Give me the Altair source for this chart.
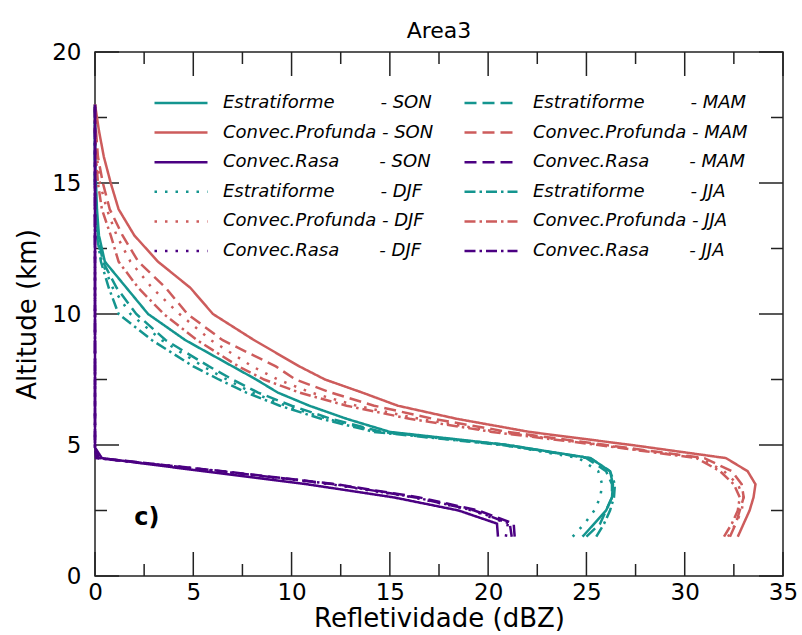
import altair as alt
import pandas as pd

# ---------------- data ----------------
alt_levels = [1.5, 2.0, 2.5, 3.0, 3.5, 4.0, 4.5, 5.0, 5.5, 6.0, 6.5, 7.0, 7.5, 8.0,
              9.0, 10.0, 11.0, 12.0, 13.0, 14.0, 15.0, 16.0, 17.0, 18.0]

# Estratiforme (teal)
est_son = [24.8, 25.4, 26.0, 26.3, 26.35, 26.2, 25.2, 21.0, 15.0, 12.8, 10.9, 9.3, 8.2, 7.0,
           4.6, 2.7, 1.6, 0.5, 0.2, 0.1, 0.05, 0.0, 0.0, 0.0]
est_mam = [25.0, 25.7, 26.0, 26.3, 26.3, 26.0, 25.0, 21.0, 14.6, 12.0, 10.0, 8.3, 7.0, 5.8,
           3.6, 2.1, 1.1, 0.4, 0.15, 0.05, 0.0, 0.0, 0.0, 0.0]
est_djf = [24.3, 24.9, 25.4, 25.7, 25.8, 25.6, 24.6, 20.8, 14.4, 11.8, 9.7, 8.0, 6.7, 5.5,
           3.4, 1.8, 0.9, 0.35, 0.1, 0.05, 0.0, 0.0, 0.0, 0.0]
est_jja = [25.5, 25.9, 26.2, 26.4, 26.45, 26.2, 25.2, 20.7, 14.2, 11.5, 9.4, 7.7, 6.3, 5.0,
           2.9, 1.2, 0.7, 0.3, 0.1, 0.05, 0.0, 0.0, 0.0, 0.0]

# Convec.Profunda (red)
prof_son = [32.7, 33.0, 33.3, 33.5, 33.6, 33.2, 32.1, 27.3, 22.1, 18.4, 15.4, 13.6, 11.7, 10.4,
            8.1, 6.0, 4.85, 3.2, 2.0, 1.2, 0.8, 0.45, 0.2, 0.0]
prof_mam = [32.3, 32.6, 32.8, 33.0, 32.9, 32.4, 31.0, 26.0, 21.0, 17.2, 14.2, 12.0, 10.2, 9.2,
            6.5, 4.7, 3.6, 2.2, 1.4, 0.75, 0.4, 0.15, 0.05, 0.0]
prof_djf = [32.2, 32.6, 32.9, 33.0, 32.7, 32.0, 30.8, 25.8, 20.5, 16.5, 13.3, 11.0, 9.3, 8.0,
            5.9, 4.3, 2.9, 1.8, 1.1, 0.6, 0.25, 0.1, 0.0, 0.0]
prof_jja = [32.0, 32.4, 32.7, 32.8, 32.5, 31.8, 30.6, 25.6, 20.2, 16.0, 12.8, 10.4, 8.6, 7.3,
            5.2, 3.5, 2.2, 1.2, 0.8, 0.35, 0.15, 0.05, 0.0, 0.0]

# Convec.Rasa (purple)
rasa_levels = [1.5, 2.0, 2.5, 3.0, 3.5, 4.0, 4.5, 4.9, 18.0]
rasa_son = [20.5, 20.45, 18.5, 15.2, 10.8, 5.5, 0.35, 0.0, 0.0]
rasa_mam = [21.35, 21.3, 19.5, 16.5, 12.3, 6.5, 0.2, 0.0, 0.0]
rasa_djf = [20.9, 21.0, 19.2, 16.2, 12.0, 6.3, 0.1, 0.0, 0.0]
rasa_jja = [21.2, 21.1, 19.3, 16.3, 12.2, 6.4, 0.05, 0.0, 0.0]

NB = "\u00a0"
lab = {
    ("E", "SON"): "Estratiforme" + NB * 8 + "- SON",
    ("P", "SON"): "Convec.Profunda" + NB + "- SON",
    ("R", "SON"): "Convec.Rasa" + NB * 7 + "- SON",
    ("E", "DJF"): "Estratiforme" + NB * 8 + "- DJF",
    ("P", "DJF"): "Convec.Profunda" + NB + "- DJF",
    ("R", "DJF"): "Convec.Rasa" + NB * 7 + "- DJF",
    ("E", "MAM"): "Estratiforme" + NB * 8 + "- MAM",
    ("P", "MAM"): "Convec.Profunda" + NB + "- MAM",
    ("R", "MAM"): "Convec.Rasa" + NB * 7 + "- MAM",
    ("E", "JJA"): "Estratiforme" + NB * 8 + "- JJA",
    ("P", "JJA"): "Convec.Profunda" + NB + "- JJA",
    ("R", "JJA"): "Convec.Rasa" + NB * 7 + "- JJA",
}

series = [
    ("E", "SON", est_son, alt_levels), ("E", "MAM", est_mam, alt_levels),
    ("E", "DJF", est_djf, alt_levels), ("E", "JJA", est_jja, alt_levels),
    ("P", "SON", prof_son, alt_levels), ("P", "MAM", prof_mam, alt_levels),
    ("P", "DJF", prof_djf, alt_levels), ("P", "JJA", prof_jja, alt_levels),
    ("R", "SON", rasa_son, rasa_levels), ("R", "MAM", rasa_mam, rasa_levels),
    ("R", "DJF", rasa_djf, rasa_levels), ("R", "JJA", rasa_jja, rasa_levels),
]

rows = []
for t, s, xs, ys in series:
    for i, (xv, yv) in enumerate(zip(xs, ys)):
        rows.append({"label": lab[(t, s)], "x": xv, "y": yv, "idx": i})
df = pd.DataFrame(rows)

type_color = {"E": "#14958f", "P": "#cd5c5c", "R": "#4b0082"}
season_dash = {"SON": [1, 0], "MAM": [12, 6], "DJF": [2.5, 8], "JJA": [11, 4, 2.5, 4]}

# legend order (column-major: left column SON then DJF, right column MAM then JJA)
legend_keys = [("E", "SON"), ("P", "SON"), ("R", "SON"), ("E", "DJF"), ("P", "DJF"), ("R", "DJF"),
               ("E", "MAM"), ("P", "MAM"), ("R", "MAM"), ("E", "JJA"), ("P", "JJA"), ("R", "JJA")]
domain = [lab[k] for k in legend_keys]
colors = [type_color[k[0]] for k in legend_keys]
dashes = [season_dash[k[1]] for k in legend_keys]

x_major = [0, 5, 10, 15, 20, 25, 30, 35]
x_minor = [2.5, 7.5, 12.5, 17.5, 22.5, 27.5, 32.5]
y_major = [0, 5, 10, 15, 20]
y_minor = [2.5, 7.5, 12.5, 17.5]

panel_label = pd.DataFrame({"x": [2.0], "y": [2.2], "text": ["c)"]})

W, H = 688, 524
FONT = "DejaVu Sans"

xscale = alt.Scale(domain=[0, 35], nice=False, zero=False)
yscale = alt.Scale(domain=[0, 20], nice=False, zero=False)

lines = alt.Chart(df).mark_line(strokeWidth=2.5, strokeCap="butt", strokeJoin="miter").encode(
    x=alt.X("x:Q", scale=xscale,
            axis=alt.Axis(values=x_major, ticks=False, domain=False, grid=False, labelFlush=False,
                          labelFontSize=23, labelFont=FONT, labelColor="black", labelPadding=5,
                          title="Refletividade (dBZ)", titleFont=FONT, titleFontSize=26,
                          titleFontWeight="normal", titleColor="black", titlePadding=1)),
    y=alt.Y("y:Q", scale=yscale,
            axis=alt.Axis(values=y_major, ticks=False, domain=False, grid=False, labelFlush=False,
                          labelFontSize=23, labelFont=FONT, labelColor="black", labelPadding=14,
                          title="Altitude (km)", titleFont=FONT, titleFontSize=26,
                          titleFontWeight="normal", titleColor="black", titlePadding=11)),
    color=alt.Color("label:N", scale=alt.Scale(domain=domain, range=colors),
                    legend=alt.Legend(title=None)),
    strokeDash=alt.StrokeDash("label:N", scale=alt.Scale(domain=domain, range=dashes),
                              legend=alt.Legend(title=None)),
    order=alt.Order("idx:Q"),
)

tick_col = "#222222"
xt_major_bot = alt.Chart(pd.DataFrame({"v": x_major})).mark_rule(color=tick_col, strokeWidth=1.5).encode(
    x=alt.X("v:Q", scale=xscale), y=alt.value(H), y2=alt.value(H - 24))
xt_major_top = alt.Chart(pd.DataFrame({"v": x_major})).mark_rule(color=tick_col, strokeWidth=1.5).encode(
    x=alt.X("v:Q", scale=xscale), y=alt.value(0), y2=alt.value(24))
xt_minor_bot = alt.Chart(pd.DataFrame({"v": x_minor})).mark_rule(color=tick_col, strokeWidth=1.5).encode(
    x=alt.X("v:Q", scale=xscale), y=alt.value(H), y2=alt.value(H - 12))
xt_minor_top = alt.Chart(pd.DataFrame({"v": x_minor})).mark_rule(color=tick_col, strokeWidth=1.5).encode(
    x=alt.X("v:Q", scale=xscale), y=alt.value(0), y2=alt.value(12))
yt_major_l = alt.Chart(pd.DataFrame({"v": y_major})).mark_rule(color=tick_col, strokeWidth=1.5).encode(
    y=alt.Y("v:Q", scale=yscale), x=alt.value(0), x2=alt.value(24))
yt_major_r = alt.Chart(pd.DataFrame({"v": y_major})).mark_rule(color=tick_col, strokeWidth=1.5).encode(
    y=alt.Y("v:Q", scale=yscale), x=alt.value(W), x2=alt.value(W - 24))
yt_minor_l = alt.Chart(pd.DataFrame({"v": y_minor})).mark_rule(color=tick_col, strokeWidth=1.5).encode(
    y=alt.Y("v:Q", scale=yscale), x=alt.value(0), x2=alt.value(12))
yt_minor_r = alt.Chart(pd.DataFrame({"v": y_minor})).mark_rule(color=tick_col, strokeWidth=1.5).encode(
    y=alt.Y("v:Q", scale=yscale), x=alt.value(W), x2=alt.value(W - 12))

ctext = alt.Chart(panel_label).mark_text(align="left", baseline="middle", fontSize=24,
                                          fontWeight="bold", font=FONT, color="black").encode(
    x=alt.X("x:Q", scale=xscale), y=alt.Y("y:Q", scale=yscale), text="text:N")

chart = alt.layer(
    xt_major_bot, xt_major_top, xt_minor_bot, xt_minor_top,
    yt_major_l, yt_major_r, yt_minor_l, yt_minor_r,
    lines, ctext,
).properties(
    width=W, height=H,
    title=alt.TitleParams("Area3", font=FONT, fontSize=22, fontWeight="normal", color="black",
                          frame="group", offset=10, dy=12),
    autosize=alt.AutoSizeParams(type="none"),
    padding={"left": 95, "top": 52, "right": 19, "bottom": 59},
).configure_view(
    stroke="#222222", strokeWidth=1.5
).configure_legend(
    orient="none", legendX=58, legendY=41, columns=2, columnPadding=29, rowPadding=9.6,
    clipHeight=20, symbolType="stroke", symbolSize=2809, symbolStrokeWidth=2.5,
    labelFontSize=18, labelFont=FONT, labelFontStyle="italic", labelColor="black",
    labelOffset=14, labelLimit=500, padding=0, titlePadding=0
)

chart.save("out.html", embed_options={"renderer": "svg", "actions": False})
